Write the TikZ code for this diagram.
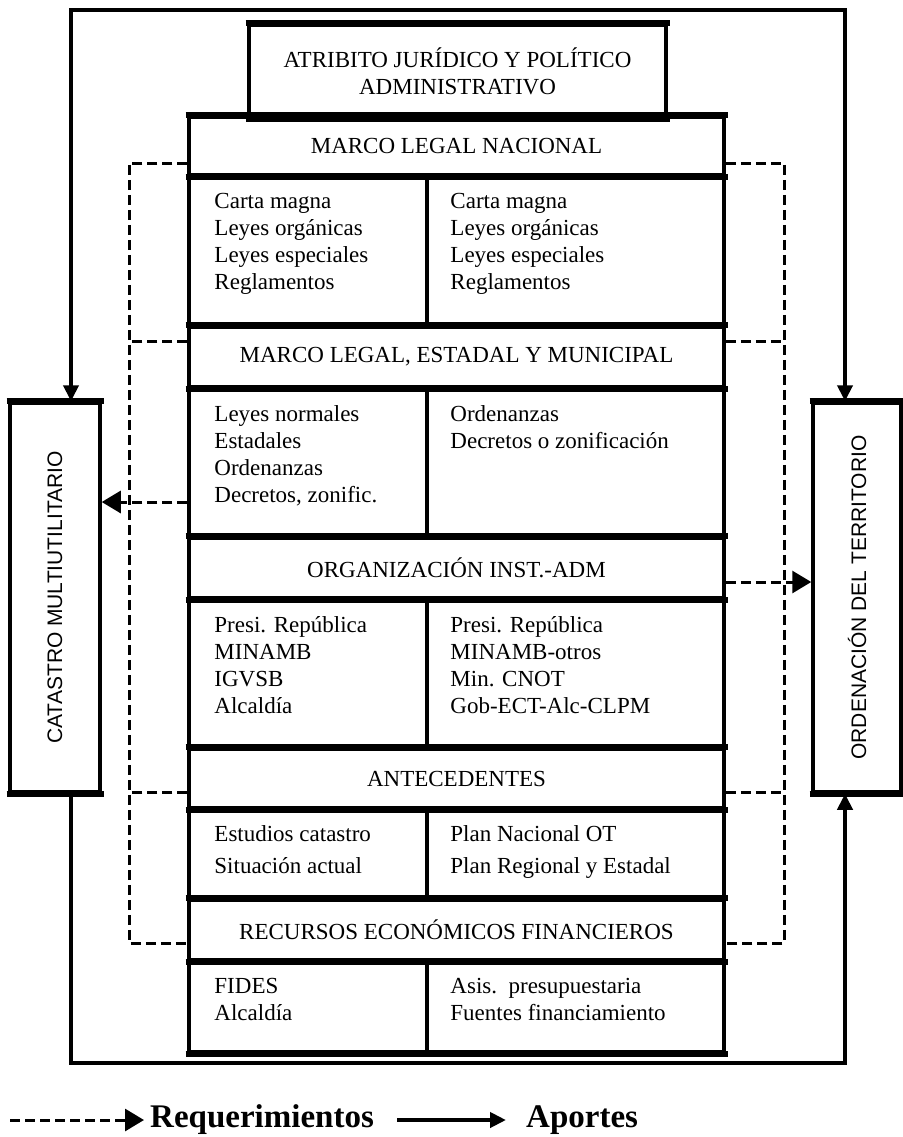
\documentclass[tikz,border=0pt]{standalone}
\usepackage{fontspec}
\usepackage{graphicx}
\setmainfont{Liberation Serif}
\setsansfont{Liberation Sans}
\usetikzlibrary{arrows.meta}
\tikzset{%
	cell/.style  = {draw, line width=3.5pt, rectangle, inner sep=0pt},
	head/.style  = {cell, align=center, font=\fontsize{23}{27}\selectfont}, % row titles
	txt/.style   = {anchor=north west, inner sep=0pt, align=left,
		font=\fontsize{23}{27}\selectfont},
	side/.style  = {cell, font=\sffamily\fontsize{21}{25}\selectfont},
	sep/.style   = {line width=6pt, shorten <=-1.75pt, shorten >=-1.75pt},
	bus/.style   = {line width=3pt, dash pattern=on 10pt off 5pt},
	req/.style   = {bus, -{Triangle[length=19pt,width=22pt]}}, % Requerimientos
	apo/.style   = {line width=4.5pt}, % Aportes
	tip/.style   = {-{Triangle[length=16pt,width=15pt]}},
	tips/.style  = {{Triangle[length=16pt,width=15pt]}-{Triangle[length=16pt,width=15pt]}},
	leg/.style   = {anchor=west, inner sep=6pt, font=\bfseries\fontsize{33}{33}\selectfont}
}
\begin{document}
\begin{tikzpicture}[x=1pt,y=-1pt]
			\useasboundingbox (0,0) rectangle (902,1137);
			\node[head, minimum width=417pt, minimum height=92pt] (atr) at (457.5,71) {ATRIBITO JURÍDICO Y POLÍTICO\\ADMINISTRATIVO};
			\node[head, minimum width=535pt, minimum height=58pt] (nac) at (456.5,146) {MARCO LEGAL NACIONAL};
			\node[cell, minimum width=238pt, minimum height=152pt] (r1a) at (308,251) {};
			\node[cell, minimum width=297pt, minimum height=152pt] (r1b) at (575.5,251) {};
			\node[head, minimum width=535pt, minimum height=60pt] (est) at (456.5,357) {MARCO LEGAL, ESTADAL Y MUNICIPAL};
			\node[cell, minimum width=238pt, minimum height=151pt] (r2a) at (308,462.5) {};
			\node[cell, minimum width=297pt, minimum height=151pt] (r2b) at (575.5,462.5) {};
			\node[head, minimum width=535pt, minimum height=60pt] (org) at (456.5,568) {ORGANIZACIÓN INST.-ADM};
			\node[cell, minimum width=238pt, minimum height=151pt] (r3a) at (308,673.5) {};
			\node[cell, minimum width=297pt, minimum height=151pt] (r3b) at (575.5,673.5) {};
			\node[head, minimum width=535pt, minimum height=59pt] (ant) at (456.5,778.5) {ANTECEDENTES};
			\node[cell, minimum width=238pt, minimum height=92pt] (r4a) at (308,854) {};
			\node[cell, minimum width=297pt, minimum height=92pt] (r4b) at (575.5,854) {};
			\node[head, minimum width=535pt, minimum height=60pt] (rec) at (456.5,930) {RECURSOS ECONÓMICOS FINANCIEROS};
			\node[cell, minimum width=238pt, minimum height=92pt] (r5a) at (308,1006) {};
			\node[cell, minimum width=297pt, minimum height=92pt] (r5b) at (575.5,1006) {};
			
			\node[txt] (t1a) at ([shift={(27,20)}]r1a.north west) {Carta magna\\Leyes orgánicas\\Leyes especiales\\Reglamentos};
			\node[txt] (t1b) at ([shift={(25,20)}]r1b.north west) {Carta magna\\Leyes orgánicas\\Leyes especiales\\Reglamentos};
			\node[txt] (t2a) at ([shift={(27,20)}]r2a.north west) {Leyes normales\\Estadales\\Ordenanzas\\Decretos, zonific.};
			\node[txt] (t2b) at ([shift={(25,20)}]r2b.north west) {Ordenanzas\\Decretos o zonificación};
			\node[txt] (t3a) at ([shift={(27,20)}]r3a.north west) {Presi. República\\MINAMB\\IGVSB\\Alcaldía};
			\node[txt] (t3b) at ([shift={(25,20)}]r3b.north west) {Presi. República\\MINAMB-otros\\Min. CNOT\\Gob-ECT-Alc-CLPM};
			\node[txt] (t4a) at ([shift={(27,19)}]r4a.north west) {Estudios catastro\\[5pt]Situación actual};
			\node[txt] (t4b) at ([shift={(25,19)}]r4b.north west) {Plan Nacional OT\\[5pt]Plan Regional y Estadal};
			\node[txt] (t5a) at ([shift={(27,20)}]r5a.north west) {FIDES\\Alcaldía};
			\node[txt] (t5b) at ([shift={(25,20)}]r5b.north west) {Asis.\ \ presupuestaria\\Fuentes financiamiento};
			
			\node[side, minimum width=90pt, minimum height=389pt] (cat) at (55,597.5) {\rotatebox{90}{CATASTRO MULTIUTILITARIO}};
			\node[side, minimum width=88pt, minimum height=389pt] (ord) at (857,597.5) {\rotatebox{90}{ORDENACIÓN DEL TERRITORIO}};
			
			\foreach \c in {atr,nac,est,org,ant,rec,cat,ord} {
				\draw[sep] (\c.north west) -- (\c.north east);
				\draw[sep] (\c.south west) -- (\c.south east);
			}
			\draw[sep] (r5a.south west) -- (r5b.south east);
			
			% Aportes
			\coordinate (aTL) at (71,10);
			\coordinate (aTR) at (845,10);
			\coordinate (aBL) at (71,1063);
			\coordinate (aBR) at (845,1063);
			\draw[apo,tips] (cat.north -| aTL) -- (aTL) -- (aTR) -- (ord.north -| aTR);
			\draw[apo,tip] (cat.south -| aBL) -- (aBL) -- (aBR) -- (ord.south -| aBR);
			
			% Requerimientos
			\coordinate (qTL) at (129,163);
			\coordinate (qL2) at (129,341);
			\coordinate (qL4) at (129,792);
			\coordinate (qBL) at (129,943);
			\coordinate (qTR) at (784,163);
			\coordinate (qR2) at (784,341);
			\coordinate (qR4) at (784,792);
			\coordinate (qBR) at (784,943);
			\draw[bus] (nac.west |- qTL) -- (qTL) -- (qBL) -- (rec.west |- qBL);
			\draw[bus] (est.west |- qL2) -- (qL2);
			\draw[bus] (ant.west |- qL4) -- (qL4);
			\draw[bus] (nac.east |- qTR) -- (qTR) -- (qBR) -- (rec.east |- qBR);
			\draw[bus] (est.east |- qR2) -- (qR2);
			\draw[bus] (ant.east |- qR4) -- (qR4);
			\coordinate (qA) at (0,502);
			\coordinate (qB) at (0,582);
			\draw[req] (r2a.west |- qA) -- (cat.east |- qA);
			\draw[req] (org.east |- qB) -- (ord.west |- qB);
			
			% legend
			\node[leg] (lreq) at (144,1120) {Requerimientos};
			\node[leg, inner xsep=20pt] (lapo) at (506,1120) {Aportes};
			\coordinate (lq) at (10,1120);
			\coordinate (la) at (397,1120);
			\draw[req] (lq) -- (lreq.west);
			\draw[apo,tip] (la) -- (lapo.west);
		\end{tikzpicture}
\end{document}
